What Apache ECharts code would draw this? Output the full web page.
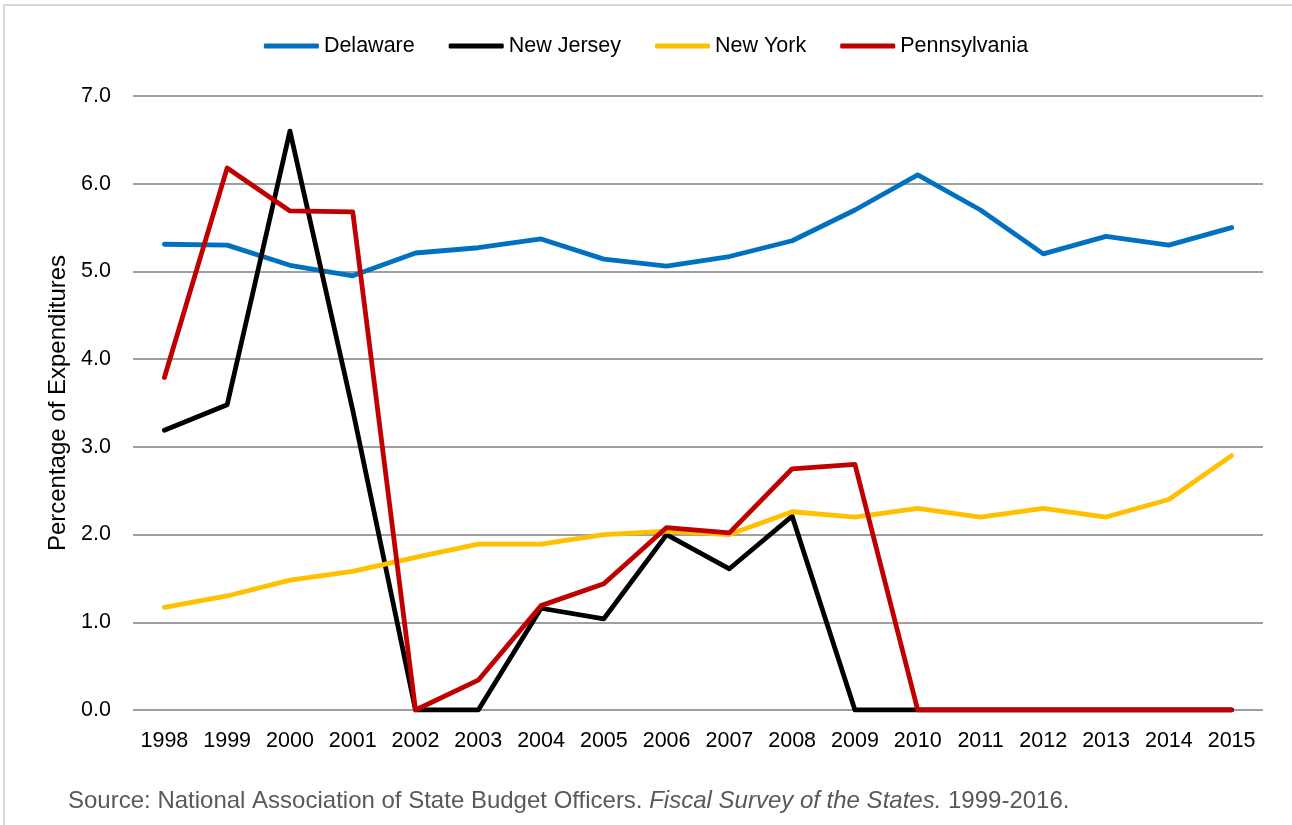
<!DOCTYPE html>
<html>
<head>
<meta charset="utf-8">
<script src="https://cdn.jsdelivr.net/npm/echarts@6/dist/echarts.min.js"></script>
<style>
  html, body { margin: 0; padding: 0; background: #fff; }
  #chart { width: 1292px; height: 825px; }
</style>
</head>
<body>
<div id="chart"></div>
<script>
  // years on the x axis
  var years = ['1998', '1999', '2000', '2001', '2002', '2003', '2004', '2005', '2006',
               '2007', '2008', '2009', '2010', '2011', '2012', '2013', '2014', '2015'];

  var delaware = [5.31, 5.30, 5.07, 4.95, 5.21, 5.27, 5.37, 5.14, 5.06,
                  5.17, 5.35, 5.70, 6.10, 5.70, 5.20, 5.40, 5.30, 5.50];
  var newJersey = [3.19, 3.48, 6.60, 3.42, 0, 0, 1.16, 1.04, 2.00,
                   1.61, 2.21, 0, 0, 0, 0, 0, 0, 0];
  var newYork = [1.17, 1.30, 1.48, 1.58, 1.74, 1.89, 1.89, 2.00, 2.04,
                 2.00, 2.26, 2.20, 2.30, 2.20, 2.30, 2.20, 2.40, 2.90];
  var pennsylvania = [3.79, 6.18, 5.69, 5.68, 0, 0.34, 1.19, 1.44, 2.08,
                      2.02, 2.75, 2.80, 0, 0, 0, 0, 0, 0];

  var font = 'Liberation Sans';

  var chart = echarts.init(document.getElementById('chart'));

  function lineSeries(name, data, color) {
    return {
      name: name,
      type: 'line',
      data: data,
      symbol: 'none',
      lineStyle: { width: 4.8, color: color, cap: 'round', join: 'round' },
      itemStyle: { color: color },
      emphasis: { disabled: true }
    };
  }

  var option = {
    animation: false,
    textStyle: { fontFamily: font },
    graphic: [
      {
        type: 'rect',
        shape: { x: 4, y: 5, width: 1300, height: 830 },
        style: { fill: null, stroke: '#d9d9d9', lineWidth: 2 },
        silent: true
      },
      {
        type: 'text',
        left: 68,
        top: 789,
        style: {
          rich: {
            n: { fontFamily: font, fontSize: 24, fill: '#595959' },
            i: { fontFamily: font, fontSize: 24, fill: '#595959', fontStyle: 'italic' }
          },
          text: '{n|Source: National Association of State Budget Officers. }{i|Fiscal Survey of the States.}{n| 1999-2016.}'
        }
      }
    ],
    legend: {
      top: 30,
      left: 'center',
      itemWidth: 55,
      itemHeight: 5,
      itemGap: 34,
      icon: 'roundRect',
      textStyle: { fontFamily: font, fontSize: 21.5, color: '#000', padding: [0, 0, 0, 0] },
      data: ['Delaware', 'New Jersey', 'New York', 'Pennsylvania']
    },
    grid: { left: 133, right: 29, top: 96, bottom: 115 },
    xAxis: {
      type: 'category',
      data: years,
      boundaryGap: true,
      axisLine: { show: false },
      axisTick: { show: false },
      axisLabel: { fontFamily: font, fontSize: 21.5, color: '#000', margin: 20 }
    },
    yAxis: {
      type: 'value',
      min: 0,
      max: 7,
      interval: 1,
      name: 'Percentage of Expenditures',
      nameLocation: 'middle',
      nameGap: 62,
      nameTextStyle: { fontFamily: font, fontSize: 24, color: '#000' },
      axisLabel: {
        fontFamily: font, fontSize: 21.5, color: '#000', margin: 22,
        formatter: function (v) { return v.toFixed(1); }
      },
      axisLine: { show: false },
      axisTick: { show: false },
      splitLine: { lineStyle: { color: '#7f7f7f', width: 1.5 } }
    },
    series: [
      lineSeries('Delaware', delaware, '#0070c0'),
      lineSeries('New Jersey', newJersey, '#000000'),
      lineSeries('New York', newYork, '#ffc000'),
      lineSeries('Pennsylvania', pennsylvania, '#c00000')
    ]
  };

  chart.setOption(option);
</script>
</body>
</html>
